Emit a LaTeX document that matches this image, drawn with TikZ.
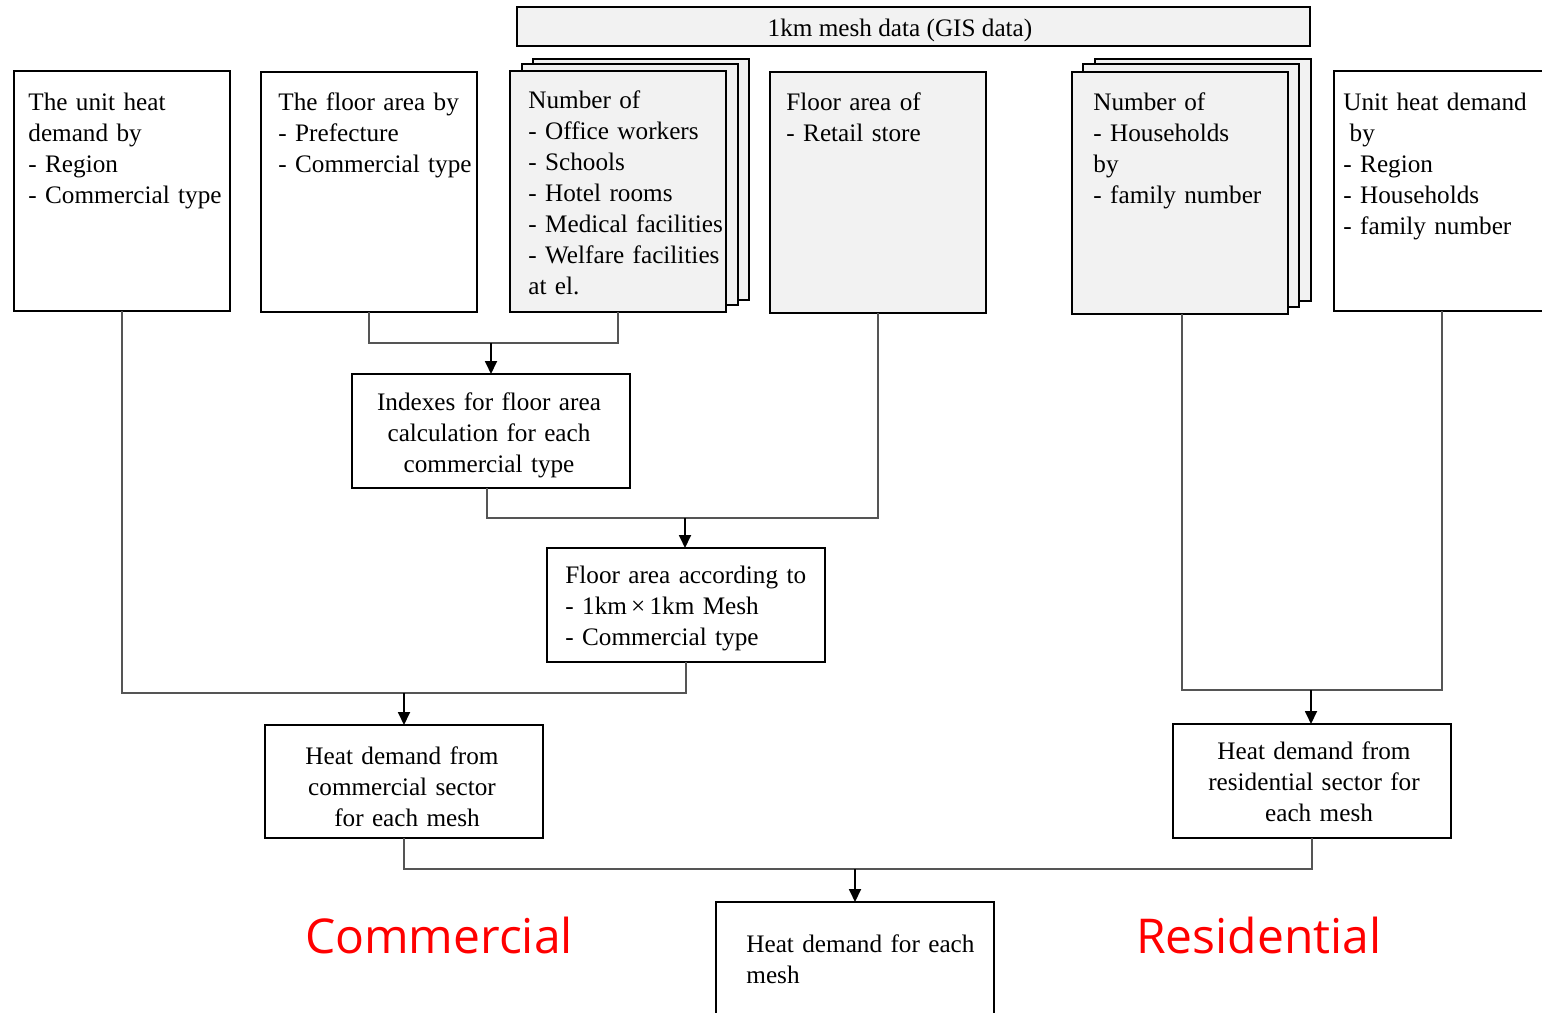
\documentclass[tikz,border=0pt]{standalone}
\usepackage{fontspec}
\setmainfont{Liberation Serif}
\newfontfamily\redfont{Open Sans}
\usetikzlibrary{arrows.meta,calc}
\definecolor{cardgray}{HTML}{F2F2F2}
\definecolor{linegray}{HTML}{555555}
\definecolor{redtxt}{HTML}{FF0000}
\begin{document}
\begin{tikzpicture}[x=0.5pt,y=-0.5pt,
 box/.style={draw=black,line width=1.1pt,inner sep=0pt,outer sep=0pt,anchor=north west,fill=white},
 card/.style={box,fill=cardgray},
 txt/.style={inner sep=0pt,anchor=base west,align=left,text width=150pt,font=\fontsize{12.6}{15.5}\selectfont},
 ctxt/.style={inner sep=0pt,anchor=base,align=center,text width=150pt,font=\fontsize{12.6}{15.5}\selectfont},
 conn/.style={draw=linegray,line width=0.65pt},
 arr/.style={draw=black,line width=0.9pt,-{Triangle[length=6.5pt,width=6pt]}},
 big/.style={text=redtxt,font=\redfont\fontsize{24}{28}\selectfont,inner sep=0pt,anchor=base}
]
\useasboundingbox (0,0) rectangle (1542,1012);

% top bar
\node[card,minimum width=396.5pt,minimum height=19.5pt] (T) at (517,7) {};
\node[inner sep=0pt,anchor=base,font=\fontsize{12.6}{15.5}\selectfont] (Tt) at (900,36) {1km mesh data (GIS data)};

% top row boxes
\node[box,minimum width=108pt,minimum height=120pt] (A) at (14,71) {};
\node[txt] (At) at (28,110) {The unit heat\\demand by\\- Region\\- Commercial type};

\node[box,minimum width=108pt,minimum height=120pt] (B) at (261,72) {};
\node[txt] (Bt) at (278,110) {The floor area by\\- Prefecture\\- Commercial type};

\node[card,minimum width=108pt,minimum height=120.5pt] (C3) at (533,59) {};
\node[card,minimum width=108pt,minimum height=120.5pt] (C2) at (522,64) {};
\node[card,minimum width=108pt,minimum height=120.5pt] (C) at (510,71) {};
\node[txt] (Ct) at (528,108) {Number of\\- Office workers\\- Schools\\- Hotel rooms\\- Medical facilities\\- Welfare facilities\\at el.};

\node[card,minimum width=108pt,minimum height=120.5pt] (D) at (770,72) {};
\node[txt] (Dt) at (786,110) {Floor area of\\- Retail store};

\node[card,minimum width=108pt,minimum height=121pt] (E3) at (1095,59) {};
\node[card,minimum width=108pt,minimum height=121.5pt] (E2) at (1083,64) {};
\node[card,minimum width=108pt,minimum height=121pt] (E) at (1072,72) {};
\node[txt] (Et) at (1093,110) {Number of\\- Households\\by\\- family number};

\node[box,minimum width=108pt,minimum height=120pt] (F) at (1334,71) {};
\node[txt] (Ft) at (1343,110) {Unit heat demand\\\hspace*{0.25em}by\\- Region\\- Households\\- family number};

% middle boxes
\node[box,minimum width=139pt,minimum height=57pt] (G) at (352,374) {};
\node[ctxt] (Gt) at (489,410) {Indexes for floor area\\calculation for each\\commercial type};

\node[box,minimum width=139pt,minimum height=57pt] (H) at (547,548) {};
\node[txt] (Ht) at (565,583) {Floor area according to\\- 1km\,\texttimes\,1km Mesh\\- Commercial type};

\node[box,minimum width=139pt,minimum height=56.5pt] (I) at (265,725) {};
\node[ctxt] (It) at (402,764) {Heat demand from\\commercial sector\\\hspace*{0.4em}for each mesh};

\node[box,minimum width=139pt,minimum height=57pt] (J) at (1173,724) {};
\node[ctxt] (Jt) at (1314,759) {Heat demand from\\residential sector for\\\hspace*{0.4em}each mesh};

\node[box,minimum width=139pt,minimum height=60pt] (K) at (716,902) {};
\node[txt] (Kt) at (746,952) {Heat demand for each\\mesh};

% junctions
\coordinate (j1) at (491,343);
\coordinate (j2) at (685,518);
\coordinate (j3) at (404,693);
\coordinate (j4) at (1311,690);
\coordinate (j5) at (855,869);

% connectors
\draw[conn] (B.south) |- (j1) -| (C.south);
\draw[arr] (j1) -- (j1 |- G.north);
\draw[conn] ([xshift=-2pt]G.south) |- (j2) -| (D.south);
\draw[arr] (j2) -- (j2 |- H.north);
\draw[conn] (A.south) |- (j3) -| (H.south);
\draw[arr] (j3) -- (I.north);
\draw[conn] ([xshift=1pt]E.south) |- (j4) -| (F.south);
\draw[arr] (j4) -- (j4 |- J.north);
\draw[conn] (I.south) |- (j5) -| (J.south);
\draw[arr] (j5) -- (K.north);

% labels
\node[big] (cm) at (439,953) {Commercial};
\node[big] (rs) at (1259,953) {Residential};
\end{tikzpicture}
\end{document}
